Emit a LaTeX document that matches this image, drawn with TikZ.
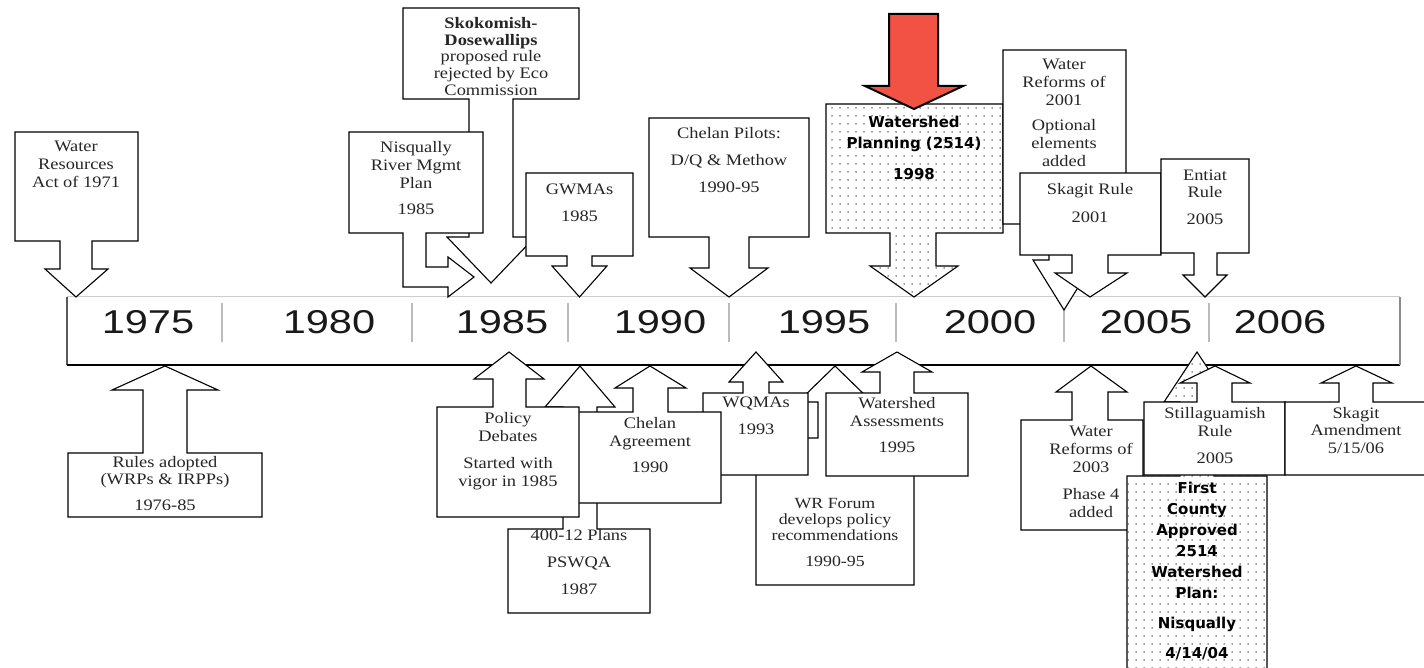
\documentclass[tikz,border=0pt]{standalone}
\usepackage{fontspec}
\setmainfont{Liberation Serif}[FakeStretch=1.15]
\newfontfamily\yearfont{Liberation Sans}[FakeStretch=1.26]
\newfontfamily\comicfont{DejaVu Sans}
\usetikzlibrary{patterns.meta}
\definecolor{arrowred}{HTML}{F25244}
\definecolor{bandgray}{HTML}{BBBBBB}
\tikzset{
 callout/.style={draw=black, line width=1.1pt, fill=white, line join=miter},
 dotfill/.style={callout, postaction={pattern={Dots[distance=8pt,radius=0.75pt]}, pattern color=black!80}},
 lbl/.style={font=\fontsize{16}{18}\selectfont, align=center, inner sep=0pt, anchor=north, text=black!85},
 comic/.style={font=\comicfont\bfseries\fontsize{15}{21}\selectfont, align=center, inner sep=0pt, anchor=north},
 yr/.style={font=\yearfont\fontsize{33}{33}\selectfont, inner sep=0pt, text=black!90},
 divider/.style={draw=bandgray, line width=1.3pt},
 redarrow/.style={draw=black, line width=2pt, fill=arrowred, line join=miter}
}
\begin{document}
\begin{tikzpicture}[x=1pt,y=-1pt]
\useasboundingbox (0,0) rectangle (1424,668);
\clip (0,0) rectangle (1424,668);
% ---------------- timeline band ----------------
\coordinate (btl) at (67,297);
\coordinate (btr) at (1400,297);
\coordinate (bbl) at (67,365);
\coordinate (bbr) at (1400,365);
\draw[draw=black!20, line width=1pt] (btl) -- (btr);
\draw[draw=black!65, line width=1.5pt] (btl) -- (bbl);
\draw[draw=black, line width=1.1pt] (bbl) -- (bbr);
\draw[draw=black!45, line width=2.2pt] (btr) -- (bbr);
\foreach \x/\n in {222/a,412/b,568/c,729/d,896/e,1064/f,1209/g}{
  \coordinate (dv\n1) at (\x,303);
  \coordinate (dv\n2) at (\x,342);
  \draw[divider] (dv\n1) -- (dv\n2);
}
\node[yr] (y1975) at (148,322) {1975};
\node[yr] (y1980) at (329,322) {1980};
\node[yr] (y1985) at (502,322) {1985};
\node[yr] (y1990) at (660,322) {1990};
\node[yr] (y1995) at (824,322) {1995};
\node[yr] (y2000) at (990,322) {2000};
\node[yr] (y2005) at (1146,322) {2005};
\node[yr] (y2006) at (1280,322) {2006};
% ---------------- top callouts ----------------
\draw[callout] (15,132)--(138,132)--(138,241)--(92,241)--(92,269)--(108,269)--(76,297)--(45,269)--(60,269)--(60,241)--(15,241)--cycle;
\node[lbl] (wra) at (76,141) {Water\\Resources\\Act of 1971};

\draw[callout] (403,8)--(579,8)--(579,99)--(513,99)--(513,237)--(535,237)--(491,283)--(447,237)--(469,237)--(469,99)--(403,99)--cycle;
\node[lbl, font=\fontsize{16}{16.8}\selectfont] (skok) at (491,17) {\textbf{Skokomish-}\\\textbf{Dosewallips}\\proposed rule\\rejected by Eco\\Commission};

\draw[callout] (349,132)--(483,132)--(483,233)--(426,233)--(426,267)--(448,267)--(448,257)--(474,277)--(448,297)--(448,287)--(403,287)--(403,233)--(349,233)--cycle;
\node[lbl] (nisq) at (416,141) {Nisqually\\River Mgmt\\Plan\\[8pt]1985};

\draw[callout] (526,173)--(633,173)--(633,256)--(592,256)--(592,266)--(607,266)--(579.5,297)--(552,266)--(567,266)--(567,256)--(526,256)--cycle;
\node[lbl] (gwma) at (579.5,184) {GWMAs\\[9pt]1985};

\draw[callout] (649,118)--(809,118)--(809,237)--(749,237)--(749,268)--(768,268)--(729,297)--(690,268)--(709,268)--(709,237)--(649,237)--cycle;
\node[lbl] (cpil) at (729,127) {Chelan Pilots:\\[9pt]D/Q \& Methow\\[9pt]1990-95};

\draw[dotfill] (826,104)--(1003,104)--(1003,233)--(936,233)--(936,266)--(958,266)--(914,297)--(870,266)--(890,266)--(890,233)--(826,233)--cycle;
\node[comic] (wsp) at (914,116) {Watershed\\Planning (2514)\\[10pt]1998};

\draw[callout] (1003,50)--(1126,50)--(1126,224)--(1079,224)--(1079,260)--(1095,260)--(1064,310)--(1033,260)--(1049,260)--(1049,224)--(1003,224)--cycle;
\node[lbl] (wr01) at (1064,59) {Water\\Reforms of\\2001\\[7pt]Optional\\elements\\added};

\draw[callout] (1020,173)--(1161,173)--(1161,255)--(1108,255)--(1108,273)--(1127,273)--(1090,297)--(1055,273)--(1072,273)--(1072,255)--(1020,255)--cycle;
\node[lbl] (skr) at (1090,183) {Skagit Rule\\[10pt]2001};

\draw[callout] (1161,159)--(1249,159)--(1249,253)--(1217,253)--(1217,275)--(1227,275)--(1205,297)--(1183,275)--(1194,275)--(1194,253)--(1161,253)--cycle;
\node[lbl, font=\fontsize{16}{17}\selectfont] (ent) at (1205,170) {Entiat\\Rule\\[10pt]2005};

\draw[redarrow] (889,14)--(938,14)--(938,86)--(963,86)--(914,109)--(865,86)--(889,86)--cycle;
% ---------------- bottom callouts ----------------
\draw[callout] (68,517)--(262,517)--(262,453)--(187,453)--(187,390)--(218,390)--(165,366)--(112,390)--(143,390)--(143,453)--(68,453)--cycle;
\node[lbl, font=\fontsize{16}{17}\selectfont] (rules) at (165,456) {Rules adopted\\(WRPs \& IRPPs)\\[9pt]1976-85};

\draw[callout] (756,585)--(914,585)--(914,438)--(852,438)--(852,402)--(872,402)--(835,366)--(798,402)--(818,402)--(818,438)--(756,438)--cycle;
\node[lbl, font=\fontsize{15.5}{16}\selectfont] (wrf) at (835,498) {WR Forum\\develops policy\\recommendations\\[10pt]1990-95};

\draw[callout] (703,475)--(808,475)--(808,393)--(769,393)--(769,382)--(783,382)--(756,352)--(729,382)--(743,382)--(743,393)--(703,393)--cycle;
\node[lbl] (wqma) at (756,397) {WQMAs\\[9pt]1993};

\draw[callout] (826,476)--(968,476)--(968,393)--(914,393)--(914,372)--(932,372)--(897,352)--(862,372)--(880,372)--(880,393)--(826,393)--cycle;
\node[lbl] (wsa) at (897,397) {Watershed\\Assessments\\[8pt]1995};

\draw[callout] (508,613)--(650,613)--(650,529)--(597,529)--(597,407)--(615,407)--(580,366)--(545,407)--(563,407)--(563,529)--(508,529)--cycle;
\node[lbl] (pswqa) at (579,529) {400-12 Plans\\[9pt]PSWQA\\[9pt]1987};

\draw[callout] (575,503)--(721,503)--(721,412)--(668,412)--(668,388)--(686,388)--(650,366)--(615,388)--(633,388)--(633,412)--(575,412)--cycle;
\node[lbl] (cagr) at (650,417) {Chelan\\Agreement\\[8pt]1990};

\draw[callout] (437,517)--(579,517)--(579,407)--(526,407)--(526,379)--(544,379)--(509,352)--(474,379)--(493,379)--(493,407)--(437,407)--cycle;
\node[lbl] (pol) at (508,412) {Policy\\Debates\\[9pt]Started with\\vigor in 1985};

\draw[callout] (1021,530)--(1143,530)--(1143,420)--(1108,420)--(1108,392)--(1127,392)--(1091,366)--(1056,392)--(1072,392)--(1072,420)--(1021,420)--cycle;
\node[lbl] (wr03) at (1091,426) {Water\\Reforms of\\2003\\[9pt]Phase 4\\added};

\draw[dotfill] (1127,690)--(1267,690)--(1267,476)--(1214,476)--(1214,402)--(1230,402)--(1197,352)--(1164,402)--(1180,402)--(1180,476)--(1127,476)--cycle;
\node[comic] (fca) at (1197,482) {First\\County\\Approved\\2514\\Watershed\\Plan:\\[9pt]Nisqually\\[9pt]4/14/04};

\draw[callout] (1144,475)--(1285,475)--(1285,402)--(1232,402)--(1232,383)--(1250,383)--(1215,366)--(1180,383)--(1197,383)--(1197,402)--(1144,402)--cycle;
\node[lbl] (stil) at (1215,407) {Stillaguamish\\Rule\\[9pt]2005};

\draw[callout] (1285,475)--(1440,475)--(1440,402)--(1373,402)--(1373,383)--(1392,383)--(1356,366)--(1321,383)--(1339,383)--(1339,402)--(1285,402)--cycle;
\node[lbl, font=\fontsize{16}{17.5}\selectfont] (skam) at (1356,407) {Skagit\\Amendment\\5/15/06};
\end{tikzpicture}
\end{document}
